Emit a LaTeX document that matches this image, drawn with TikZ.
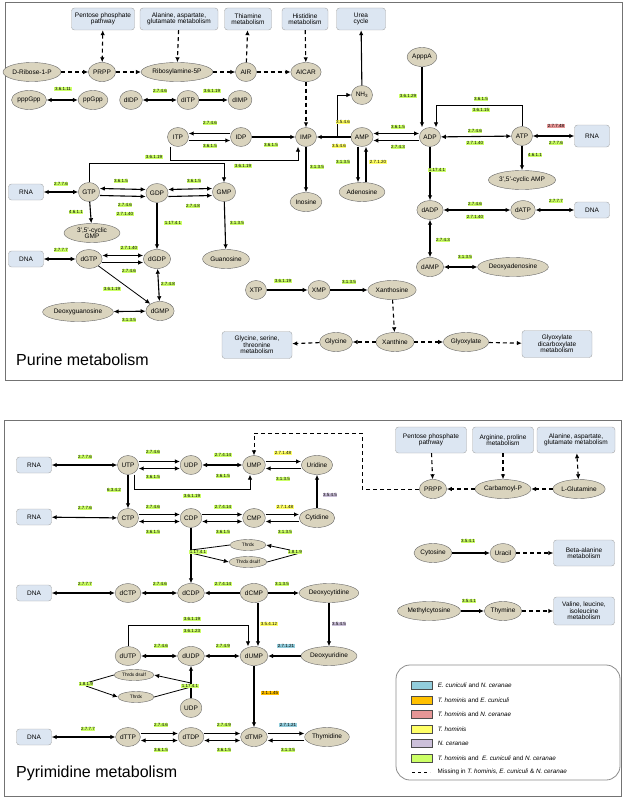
\documentclass[tikz,border=0pt]{standalone}
\usepackage{fontspec}
\setmainfont{Liberation Sans}
\usetikzlibrary{arrows.meta}
\usetikzlibrary{positioning}
\usetikzlibrary{shapes.geometric}
\definecolor{mettan}{RGB}{218,212,190}
\definecolor{pwblue}{RGB}{220,230,242}
\definecolor{ecgreen}{RGB}{204,255,102}
\definecolor{ecyellow}{RGB}{255,255,102}
\definecolor{ecred}{RGB}{230,150,150}
\definecolor{ecpurple}{RGB}{204,192,218}
\definecolor{ecblue}{RGB}{146,205,220}
\definecolor{ecorange}{RGB}{255,192,0}
\newcommand\fsz[1]{\fontsize{#1}{#1}\selectfont}
\tikzset{
  met/.style={ellipse, draw=black!60, fill=mettan, inner sep=0.8pt, minimum width=21pt, minimum height=19pt, font=\fsz{6.5}},
  pw/.style={rectangle, rounded corners=3pt, draw=black!35, fill=pwblue, align=center, minimum height=22pt, inner sep=2pt, font=\fsz{6.5}},
  ec/.style={fill=ecgreen, inner sep=0.6pt, font=\fsz{4.5}},
  rx/.style={-{Latex[length=5pt,width=4.5pt]}, line width=1.1pt},
  rr/.style={{Latex[length=5pt,width=4.5pt]}-{Latex[length=5pt,width=4.5pt]}, line width=1.1pt},
  nx/.style={rx, dashed, dash pattern=on 4pt off 3pt},
  nn/.style={rr, dashed, dash pattern=on 4pt off 3pt},
  sw/.style={draw=black!70, minimum width=21pt, minimum height=8pt, inner sep=0pt},
  lg/.style={font=\fsz{6.3}, inner sep=1pt, anchor=west},
}
\begin{document}
\begin{tikzpicture}[x=1pt, y=-1pt]
\useasboundingbox (0,0) rectangle (625,800);
\draw[black!55, line width=1pt] (5,3) rectangle (622,380);
\draw[black!55, line width=1pt] (4,420) rectangle (621,796);

% ---- purine metabolism
\node[pw, minimum width=63pt] (pPent) at (103,19) {Pentose phosphate\\pathway};
\node[pw, minimum width=78pt] (pAla) at (179,19) {Alanine, aspartate,\\glutamate metabolism};
\node[pw, minimum width=47pt] (pThia) at (248,19) {Thiamine\\metabolism};
\node[pw, minimum width=46pt] (pHis) at (305,19) {Histidine\\metabolism};
\node[pw, minimum width=49pt] (pUrea) at (361,19) {Urea\\cycle};
\node[met] (dRib) at (32,72) {D-Ribose-1-P};
\node[met] (PRPP) at (102,72) {PRPP};
\node[met] (Ribo) at (177,72) {Ribosylamine-5P};
\node[met] (AIR) at (246,72) {AIR};
\node[met] (AICAR) at (306,72) {AICAR};
\node[met] (pppGpp) at (29,100) {pppGpp};
\node[met] (ppGpp) at (93,100) {ppGpp};
\node[met] (dIDP) at (131,100) {dIDP};
\node[met] (dITP) at (188,100) {dITP};
\node[met] (dIMP) at (240,100) {dIMP};
\node[met] (ITP) at (178,137) {ITP};
\node[met] (IDP) at (241,137) {IDP};
\node[met] (IMP) at (306,137) {IMP};
\node[met] (Inosine) at (306,202) {Inosine};
\node[met] (NH3) at (362,95) {NH\textsubscript{3}};
\node[met] (AMP) at (362,137) {AMP};
\node[met] (Adenosine) at (362,192) {Adenosine};
\node[met] (ApppA) at (422,57) {ApppA};
\node[met] (ADP) at (430,137) {ADP};
\node[met] (ATP) at (522,136) {ATP};
\node[pw, minimum width=35pt] (pRNA3) at (592,136) {RNA};
\node[met] (cAMP) at (522,180) {3',5'-cyclic AMP};
\node[met] (dADP) at (430,210) {dADP};
\node[met] (dATP) at (523,210) {dATP};
\node[pw, minimum width=35pt, minimum height=16pt] (pDNA3) at (592,210) {DNA};
\node[met] (dAMP) at (430,267) {dAMP};
\node[met] (dAdo) at (513,267) {Deoxyadenosine};
\node[pw, minimum width=35pt, minimum height=16pt] (pRNA1) at (26,192) {RNA};
\node[met] (GTP) at (89,192) {GTP};
\node[met] (GDP) at (157,193) {GDP};
\node[met] (GMP) at (224,192) {GMP};
\node[met, align=center, minimum width=56pt] (cGMP) at (92,233) {3',5'-cyclic\\GMP};
\node[met] (Guanosine) at (226,259) {Guanosine};
\node[pw, minimum width=35pt, minimum height=16pt] (pDNA1) at (26,259) {DNA};
\node[met] (dGTP) at (89,259) {dGTP};
\node[met] (dGDP) at (157,259) {dGDP};
\node[met] (dGMP) at (160,311) {dGMP};
\node[met] (dGuo) at (78,312) {Deoxyguanosine};
\node[met] (XTP) at (256,290) {XTP};
\node[met] (XMP) at (319,290) {XMP};
\node[met] (Xanthosine) at (392,290) {Xanthosine};
\node[met] (Xanthine) at (395,342) {Xanthine};
\node[met] (Glycine) at (336,342) {Glycine};
\node[met] (Glyoxylate) at (466,342) {Glyoxylate};
\node[pw, minimum width=70pt, minimum height=27pt] (pGly) at (257,345) {Glycine, serine,\\threonine\\metabolism};
\node[pw, minimum width=70pt, minimum height=27pt] (pGlyox) at (557,344) {Glyoxylate\\dicarboxylate\\metabolism};
\node[anchor=west, font=\fsz{16}, inner sep=0pt] (tPur) at (16,360) {Purine metabolism};

\draw[nn] (pPent) -- (PRPP);
\draw[nx] (pAla) -- (Ribo);
\draw[nx] (AIR) -- (pThia);
\draw[nx] (pHis) -- (AICAR);
\draw[nx] (dRib) -- (PRPP);
\draw[nx] (PRPP) -- (Ribo);
\draw[nx] (Ribo) -- (AIR);
\draw[nx] (AIR) -- (AICAR);
\draw[nx] (AICAR) -- (IMP);
\draw[rr] (pppGpp) -- (ppGpp);
\draw[rr] (dIDP) -- (dITP);
\draw[rx] (dITP) -- (dIMP);
\draw[rx] ([yshift=-3.5pt]ITP.east) -- ([yshift=-3.5pt]IDP.west);
\draw[rx] ([yshift=3.5pt]IDP.west) -- ([yshift=3.5pt]ITP.east);
\draw[rx] (IDP) -- (IMP);
\draw[rx, line width=0.8pt] ([xshift=-8pt]ITP.south) -- ([xshift=-8pt]ITP.south |- 0,160) -| ([xshift=-8pt]IMP.south);
\draw[rx, line width=0.8pt] (GTP.north) -- (GTP.north |- 0,163) -| (GMP.north);
\draw[rx] (IMP) -- (Inosine);
\draw[rx] (NH3) -- (pUrea);
\draw[rx] (AMP) -- (IMP);
\draw[rx, line width=0.8pt] (337,137) |- (NH3.west);
\draw[rx] (ApppA) -- ([xshift=-8pt]ADP.north);
\draw[rx] ([yshift=-3.5pt]ADP.west) -- ([yshift=-3.5pt]AMP.east);
\draw[rr] ([yshift=3.5pt]AMP.east) -- ([yshift=3.5pt]ADP.west);
\draw[rr] (ADP) -- (ATP);
\draw[rx, line width=0.8pt] (ATP.north) -- (ATP.north |- 0,105) -| ([xshift=6pt]ADP.north);
\draw[rr] (ATP) -- (pRNA3);
\draw[rx] (ATP) -- (cAMP);
\draw[rx] ([xshift=-4pt]AMP.south) -- ([xshift=-4pt]Adenosine.north);
\draw[rx] ([xshift=4pt]Adenosine.north) -- ([xshift=4pt]AMP.south);
\draw[rx] (ADP) -- (dADP);
\draw[rr] (dADP) -- (dATP);
\draw[rr] (dATP) -- (pDNA3);
\draw[rr] (dADP) -- (dAMP);
\draw[rr] (dAMP) -- (dAdo);
\draw[rx] (XTP) -- (XMP);
\draw[rx] (XMP) -- (Xanthosine);
\draw[nx] (Xanthosine) -- (Xanthine);
\draw[nx] (Xanthine) -- (Glycine);
\draw[nx] (Glycine) -- (pGly);
\draw[nx] (Xanthine) -- (Glyoxylate);
\draw[nx] (Glyoxylate) -- (pGlyox);
\draw[rr] (pRNA1) -- (GTP);
\draw[rx] ([yshift=-3.5pt]GTP.east) -- ([yshift=-3.5pt]GDP.west);
\draw[rr] ([yshift=3.5pt]GTP.east) -- ([yshift=3.5pt]GDP.west);
\draw[rx] ([yshift=-3.5pt]GDP.east) -- ([yshift=-3.5pt]GMP.west);
\draw[rr] ([yshift=3.5pt]GDP.east) -- ([yshift=3.5pt]GMP.west);
\draw[rx] (GTP) -- (cGMP);
\draw[rx] (GDP) -- (dGDP);
\draw[rx] (GMP) -- (Guanosine);
\draw[rr] (pDNA1) -- (dGTP);
\draw[rx] ([yshift=-3.5pt]dGTP.east) -- ([yshift=-3.5pt]dGDP.west);
\draw[rr] ([yshift=3.5pt]dGTP.east) -- ([yshift=3.5pt]dGDP.west);
\draw[rr] (dGDP) -- (dGMP);
\draw[rx, line width=0.8pt] (dGTP) -- (dGMP);
\draw[rr] (dGuo) -- (dGMP);

\node[ec] at (63,89) {3.6.1.11};
\node[ec] at (160,91) {2.7.4.6};
\node[ec] at (212,91) {3.6.1.19};
\node[ec] at (210,123) {2.7.4.6};
\node[ec] at (210,146) {3.6.1.5};
\node[ec] at (271,145) {3.6.1.5};
\node[ec] at (243,166) {3.6.1.19};
\node[ec] at (154,157) {3.6.1.19};
\node[ec] at (317,167) {3.1.3.5};
\node[ec, fill=ecyellow] at (343,122) {3.5.4.6};
\node[ec, fill=ecyellow] at (339,146) {3.5.4.6};
\node[ec] at (408,96) {3.6.1.29};
\node[ec] at (398,127) {3.6.1.5};
\node[ec] at (398,147) {2.7.4.3};
\node[ec] at (481,99) {3.6.1.5};
\node[ec] at (481,110) {3.6.1.15};
\node[ec] at (475,131) {2.7.4.6};
\node[ec] at (475,143) {2.7.1.40};
\node[ec, fill=ecred] at (556,126) {2.7.7.48};
\node[ec] at (556,143) {2.7.7.6};
\node[ec] at (535,155) {4.6.1.1};
\node[ec] at (343,162) {3.1.3.5};
\node[ec, fill=ecyellow] at (378,162) {2.7.1.20};
\node[ec] at (437,170) {1.17.4.1};
\node[ec] at (475,204) {2.7.4.6};
\node[ec] at (475,217) {2.7.1.40};
\node[ec] at (556,201) {2.7.7.7};
\node[ec] at (443,240) {2.7.4.3};
\node[ec] at (465,257) {3.1.3.5};
\node[ec] at (283,281) {3.6.1.19};
\node[ec] at (349,282) {3.1.3.5};
\node[ec] at (61,184) {2.7.7.6};
\node[ec] at (121,181) {3.6.1.5};
\node[ec] at (194,181) {3.6.1.5};
\node[ec] at (125,205) {2.7.4.6};
\node[ec] at (125,214) {2.7.1.40};
\node[ec] at (193,206) {2.7.4.8};
\node[ec] at (76,212) {4.6.1.1};
\node[ec] at (173,223) {1.17.4.1};
\node[ec] at (237,223) {3.1.3.5};
\node[ec] at (61,250) {2.7.7.7};
\node[ec] at (129,248) {2.7.1.40};
\node[ec] at (129,271) {2.7.4.6};
\node[ec] at (168,284) {2.7.4.8};
\node[ec] at (112,289) {3.6.1.19};
\node[ec] at (129,320) {3.1.3.5};

% ---- pyrimidine metabolism
\node[pw, minimum width=35pt, minimum height=16pt] (yRNA1) at (34,465) {RNA};
\node[met] (UTP) at (128,465) {UTP};
\node[met] (UDP) at (191,465) {UDP};
\node[met] (UMP) at (254,465) {UMP};
\node[met] (Uridine) at (317,465) {Uridine};
\node[pw, minimum width=35pt, minimum height=16pt] (yRNA2) at (34,517) {RNA};
\node[met] (CTP) at (128,518) {CTP};
\node[met] (CDP) at (191,518) {CDP};
\node[met] (CMP) at (254,518) {CMP};
\node[met] (Cytidine) at (317,518) {Cytidine};
\node[met, minimum height=11pt, minimum width=36pt, font=\fsz{4.8}] (Trx1) at (248,545) {Thrdx};
\node[met, minimum height=11pt, minimum width=38pt, font=\fsz{4.8}] (TrxS1) at (248,562) {Thrdx dsulf};
\node[pw, minimum width=35pt, minimum height=16pt] (yDNA1) at (34,593) {DNA};
\node[met] (dCTP) at (128,593) {dCTP};
\node[met] (dCDP) at (191,593) {dCDP};
\node[met] (dCMP) at (254,593) {dCMP};
\node[met] (dCyd) at (329,593) {Deoxycytidine};
\node[met] (dUTP) at (128,656) {dUTP};
\node[met] (dUDP) at (191,656) {dUDP};
\node[met] (dUMP) at (254,656) {dUMP};
\node[met] (dUrd) at (329,656) {Deoxyuridine};
\node[met, minimum height=11pt, minimum width=40pt, font=\fsz{4.8}] (TrxS2) at (134,675) {Thrdx dsulf};
\node[met, minimum height=11pt, minimum width=36pt, font=\fsz{4.8}] (Trx2) at (136,697) {Thrdx};
\node[met] (UDP2) at (191,708) {UDP};
\node[pw, minimum width=35pt, minimum height=16pt] (yDNA2) at (34,737) {DNA};
\node[met] (dTTP) at (128,737) {dTTP};
\node[met] (dTDP) at (191,737) {dTDP};
\node[met] (dTMP) at (254,737) {dTMP};
\node[met] (Thymidine) at (327,737) {Thymidine};
\node[anchor=west, font=\fsz{16}, inner sep=0pt] (tPyr) at (16,773) {Pyrimidine metabolism};

\node[pw, minimum width=71pt, minimum height=26pt] (yPent) at (431,440) {Pentose phosphate\\pathway};
\node[pw, minimum width=61pt, minimum height=26pt] (yArg) at (503,440) {Arginine, proline\\metabolism};
\node[pw, minimum width=78pt, minimum height=26pt] (yAla) at (576,440) {Alanine, aspartate,\\glutamate metabolism};
\node[met] (yPRPP) at (433,489) {PRPP};
\node[met] (Carb) at (503,489) {Carbamoyl-P};
\node[met] (LGlu) at (579,489) {L-Glutamine};
\node[met] (Cytosine) at (433,553) {Cytosine};
\node[met] (Uracil) at (503,553) {Uracil};
\node[pw, minimum width=61pt, minimum height=26pt] (yBeta) at (584,553) {Beta-alanine\\metabolism};
\node[met] (MeCyt) at (429,611) {Methylcytosine};
\node[met] (Thymine) at (503,611) {Thymine};
\node[pw, minimum width=61pt, minimum height=28pt] (yVal) at (584,611) {Valine, leucine,\\isoleucine\\metabolism};

\draw[rr] (yRNA1) -- (UTP);
\draw[rr] ([yshift=-3.5pt]UTP.east) -- ([yshift=-3.5pt]UDP.west);
\draw[rx] ([yshift=3.5pt]UTP.east) -- ([yshift=3.5pt]UDP.west);
\draw[rr] (UDP) -- (UMP);
\draw[rx] ([yshift=-3.5pt]Uridine.west) -- ([yshift=-3.5pt]UMP.east);
\draw[rx] ([yshift=3.5pt]UMP.east) -- ([yshift=3.5pt]Uridine.west);
\draw[rx, line width=0.8pt] ([xshift=6pt]UTP.south) -- ([xshift=6pt]UTP.south |- 0,489) -| ([xshift=-4pt]UMP.south);
\draw[rx] (UTP) -- (CTP);
\draw[rr] (yRNA2) -- (CTP);
\draw[rr] ([yshift=-3.5pt]CTP.east) -- ([yshift=-3.5pt]CDP.west);
\draw[rx] ([yshift=3.5pt]CTP.east) -- ([yshift=3.5pt]CDP.west);
\draw[rr] ([yshift=-3.5pt]CDP.east) -- ([yshift=-3.5pt]CMP.west);
\draw[rx] ([yshift=3.5pt]CDP.east) -- ([yshift=3.5pt]CMP.west);
\draw[rx] ([yshift=-3.5pt]Cytidine.west) -- ([yshift=-3.5pt]CMP.east);
\draw[rx] ([yshift=3.5pt]CMP.east) -- ([yshift=3.5pt]Cytidine.west);
\draw[rx] (Cytidine) -- (Uridine);
\draw[rx] (CDP) -- (dCDP);
\draw[line width=0.8pt] (191,550) -- (Trx1.west);
\draw[rx, line width=0.8pt] (191,553) -- (TrxS1.west);
\draw[line width=0.8pt] (TrxS1.east) -- (300,553);
\draw[rx, line width=0.8pt] (290,550) -- (Trx1.east);
\draw[rr] (yDNA1) -- (dCTP);
\draw[rr] (dCTP) -- (dCDP);
\draw[rx] (dCMP) -- (dCDP);
\draw[rx] (dCMP) -- (dCyd);
\draw[rx] ([xshift=4pt]dCMP.south) -- ([xshift=4pt]dUMP.north);
\draw[rx] (dCyd) -- (dUrd);
\draw[rx, line width=0.8pt] (dUTP.north) -- (dUTP.north |- 0,625) -| ([xshift=-6pt]dUMP.north);
\draw[rr] (dUTP) -- (dUDP);
\draw[rr] (dUDP) -- (dUMP);
\draw[rx] (dUrd) -- (dUMP);
\draw[rx] (UDP2) -- (dUDP);
\draw[rx, line width=0.8pt] (191,683) -- (TrxS2.east);
\draw[line width=0.8pt] (Trx2.east) -- (191,687);
\draw[line width=0.8pt] (TrxS2.west) -- (86,683);
\draw[rx, line width=0.8pt] (86,686) -- (Trx2.west);
\draw[rx] (dUMP) -- (dTMP);
\draw[rr] (yDNA2) -- (dTTP);
\draw[rr] ([yshift=-3.5pt]dTTP.east) -- ([yshift=-3.5pt]dTDP.west);
\draw[rx] ([yshift=3.5pt]dTTP.east) -- ([yshift=3.5pt]dTDP.west);
\draw[rr] ([yshift=-3.5pt]dTDP.east) -- ([yshift=-3.5pt]dTMP.west);
\draw[rx] ([yshift=3.5pt]dTDP.east) -- ([yshift=3.5pt]dTMP.west);
\draw[rx] ([yshift=-3.5pt]Thymidine.west) -- ([yshift=-3.5pt]dTMP.east);
\draw[rx] ([yshift=3.5pt]dTMP.east) -- ([yshift=3.5pt]Thymidine.west);
\draw[nx] (yPent) -- (yPRPP);
\draw[nx] (yArg) -- (Carb);
\draw[nn] (yAla) -- (LGlu);
\draw[nx] (Carb) -- (yPRPP);
\draw[nx] (LGlu) -- (Carb);
\draw[nx, line width=0.8pt] (yPRPP.west) -- (362,489) -- (362,433) -| (UMP.north);
\draw[rx] (Cytosine) -- (Uracil);
\draw[nx] (Uracil) -- (yBeta);
\draw[rx] (MeCyt) -- (Thymine);
\draw[nx] (Thymine) -- (yVal);

\node[ec] at (85,457) {2.7.7.6};
\node[ec] at (153,452) {2.7.4.6};
\node[ec] at (153,477) {3.6.1.5};
\node[ec] at (223,455) {2.7.4.14};
\node[ec] at (223,476) {3.6.1.5};
\node[ec, fill=ecyellow] at (283,453) {2.7.1.48};
\node[ec] at (283,479) {3.1.3.5};
\node[ec] at (192,496) {3.6.1.19};
\node[ec] at (114,490) {6.3.4.2};
\node[ec] at (85,508) {2.7.7.6};
\node[ec] at (153,507) {2.7.4.6};
\node[ec] at (153,532) {3.6.1.5};
\node[ec] at (223,507) {2.7.4.14};
\node[ec] at (223,532) {3.6.1.5};
\node[ec, fill=ecyellow] at (285,507) {2.7.1.48};
\node[ec] at (285,532) {3.1.3.5};
\node[ec, fill=ecpurple] at (330,495) {3.5.4.5};
\node[ec] at (198,552) {1.17.4.1};
\node[ec] at (295,552) {1.8.1.9};
\node[ec] at (85,584) {2.7.7.7};
\node[ec] at (160,584) {2.7.4.6};
\node[ec] at (223,584) {2.7.4.14};
\node[ec] at (282,584) {3.1.3.5};
\node[ec, fill=ecyellow] at (269,624) {3.5.4.12};
\node[ec, fill=ecpurple] at (339,624) {3.5.4.5};
\node[ec] at (192,619) {3.6.1.19};
\node[ec] at (192,631) {3.6.1.23};
\node[ec] at (161,646) {2.7.4.6};
\node[ec] at (223,646) {2.7.4.9};
\node[ec, fill=ecblue] at (286,646) {2.7.1.21};
\node[ec] at (190,686) {1.17.4.1};
\node[ec] at (86,684) {1.8.1.9};
\node[ec, fill=ecorange] at (270,693) {2.1.1.45};
\node[ec] at (88,729) {2.7.7.7};
\node[ec] at (161,725) {2.7.4.6};
\node[ec] at (161,750) {3.6.1.5};
\node[ec] at (224,725) {2.7.4.9};
\node[ec] at (224,750) {3.6.1.5};
\node[ec, fill=ecblue] at (288,725) {2.7.1.21};
\node[ec] at (288,750) {3.1.3.5};
\node[ec] at (468,541) {3.5.4.1};
\node[ec] at (469,601) {3.5.4.1};

% ---- legend
\draw[black!45, line width=0.8pt, rounded corners=14pt] (396,665) rectangle (620,780);
\node[sw, fill=ecblue] (kBlue) at (422,685) {};
\node[sw, fill=ecorange] (kOrange) at (422,700) {};
\node[sw, fill=ecred] (kRed) at (422,714) {};
\node[sw, fill=ecyellow] (kYellow) at (422,729) {};
\node[sw, fill=ecpurple] (kPurple) at (422,743) {};
\node[sw, fill=ecgreen] (kGreen) at (422,758) {};
\coordinate (kDash) at (422,772);
\node[lg, right=4pt of kBlue] {\textit{E. cuniculi} and \textit{N. ceranae}};
\node[lg, right=4pt of kOrange] {\textit{T. hominis} and \textit{E. cuniculi}};
\node[lg, right=4pt of kRed] {\textit{T. hominis} and \textit{N. ceranae}};
\node[lg, right=4pt of kYellow] {\textit{T. hominis}};
\node[lg, right=4pt of kPurple] {\textit{N. ceranae}};
\node[lg, right=4pt of kGreen] {\textit{T. hominis} and \ \textit{E. cuniculi} and \textit{N. ceranae}};
\draw[dashed, line width=0.8pt] ([xshift=-10pt]kDash) -- ([xshift=8pt]kDash);
\node[lg] at ([xshift=14.5pt]kDash) {Missing in \textit{T. hominis}, \textit{E. cuniculi} \& \textit{N. ceranae}};
\end{tikzpicture}
\end{document}
